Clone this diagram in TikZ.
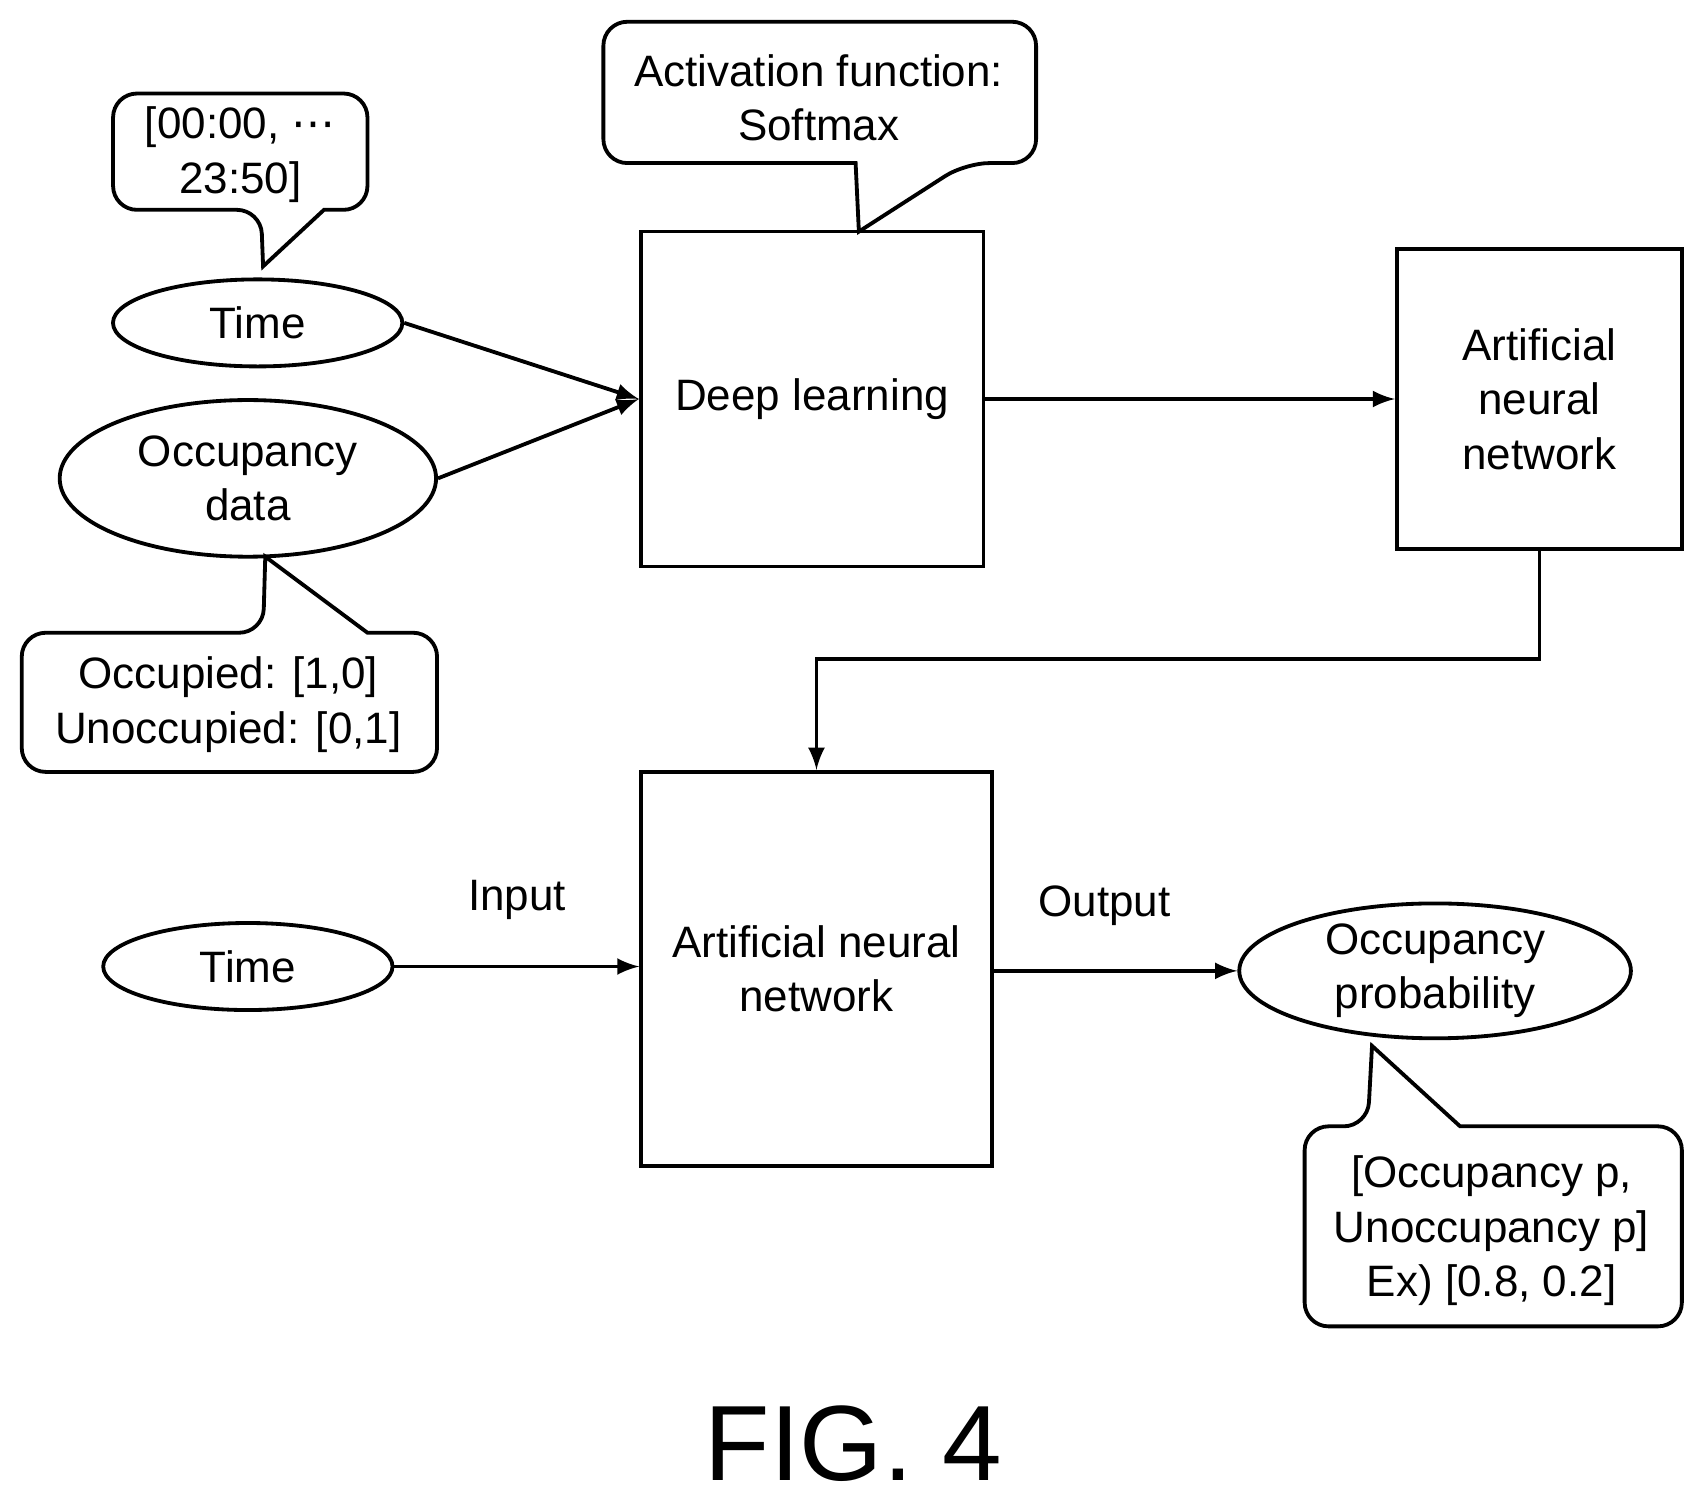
\documentclass[tikz,border=0pt]{standalone}
\usepackage{fontspec}
\setmainfont{Liberation Sans}
\newfontfamily\symfont{DejaVu Sans}
\usetikzlibrary{shapes.geometric}
\tikzset{>=latex}
\tikzset{
  blk/.style={draw,line width=1pt,align=center,inner sep=0pt},
  oval/.style={draw,ellipse,line width=1pt,align=center,inner sep=0pt},
  bubble/.style={line width=1pt},
  txt/.style={align=center,inner sep=0pt}
}

\begin{document}
\begin{tikzpicture}[x=0.01cm,y=-0.01cm,font=\fontsize{11.5}{14.3}\selectfont]
            \useasboundingbox (0,0) rectangle (1560,1384);
            % boxes
            \node[blk,minimum width=3.15cm,minimum height=3.08cm] (dl) at (747,367) {Deep learning};
            \node[blk,minimum width=2.62cm,minimum height=2.76cm] (annr) at (1416,367) {Artificial\\neural\\network};
            \node[blk,minimum width=3.22cm,minimum height=3.62cm] (annb) at (751,891) {Artificial neural\\network};
            % ovals
            \node[oval,minimum width=2.66cm,minimum height=0.8cm] (t1) at (237,297) {Time};
            \node[oval,minimum width=3.46cm,minimum height=1.44cm] (occ) at (228,440) {Occupancy\\data};
            \node[oval,minimum width=2.66cm,minimum height=0.8cm] (t2) at (228,889) {Time};
            \node[oval,minimum width=3.6cm,minimum height=1.24cm] (prob) at (1320,893) {Occupancy\\probability};
            % callouts
            \draw[bubble] (240,193) -- (242,245) -- (298,193) [rounded corners=0.22cm] -- (338,193) -- (338,86) -- (104,86) -- (104,193) -- cycle;
            \node[txt] (c1) at (221,142) {[00:00, {\symfont\symbol{"22EF}}\\23:50]};
            \draw[bubble] (242,582) -- (244,512) -- (338,582) [rounded corners=0.22cm] -- (402,582) -- (402,710) -- (20,710) -- (20,582) -- cycle;
            \node[txt] (c2) at (210,648) {Occupied: [1,0]\\Unoccupied: [0,1]};
            \draw[bubble] (888,150) -- (790,213) -- (787,150) [rounded corners=0.22cm] -- (555,150) -- (555,20) -- (953,20) -- (953,150) -- cycle;
            \node[txt] (c3) at (753,90) {Activation function:\\Softmax};
            \draw[bubble] (1258,1036) -- (1262,962) -- (1343,1036) [rounded corners=0.22cm] -- (1547,1036) -- (1547,1220) -- (1200,1220) -- (1200,1036) -- cycle;
            \node[txt] (c4) at (1372,1132) {[Occupancy p,\\Unoccupancy p]\\Ex) [0.8, 0.2]};
            % connectors
            \draw[->,line width=1pt] (t1.east) -- (dl.west);
            \draw[->,line width=1pt] (occ.east) -- (dl.west);
            \draw[->,line width=1pt] (dl.east) -- (annr.west);
            \draw[->,line width=1pt] (annr.south) |- (1000,606) -| (annb.north);
            \draw[->,line width=1pt] (t2.east) -- node[above=0.3cm] (in) {Input} (t2.east -| annb.west);
            \draw[->,line width=1pt] (annb.east |- prob.west) -- node[above=0.28cm,xshift=-0.1cm] (out) {Output} (prob.west);
            \node (fig) at (785,1328) {\fontsize{28}{30}\selectfont FIG. 4};
        \end{tikzpicture}
\end{document}
